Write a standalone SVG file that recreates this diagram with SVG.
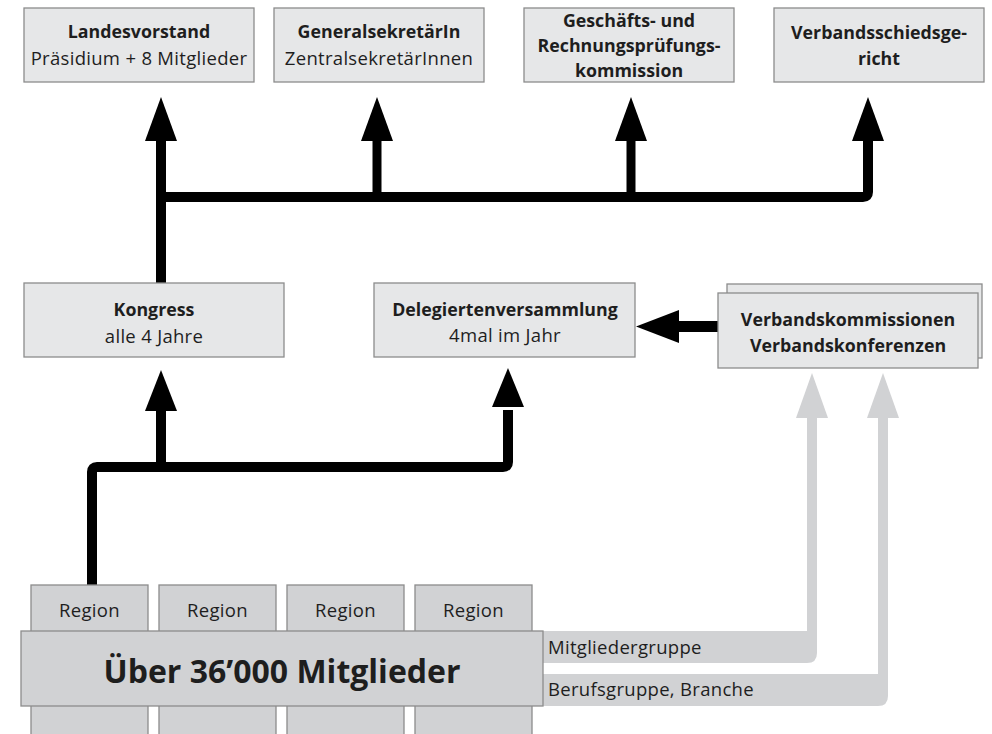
<svg xmlns="http://www.w3.org/2000/svg" width="992" height="734" viewBox="0 0 992 734">
<style>
  .box{fill:#e6e7e8;stroke:#8c8c8c;stroke-width:1.3}
  .dbox{fill:#d1d2d4;stroke:#8c8c8c;stroke-width:1.3}
  text{font-family:"Open Sans","Noto Sans","DejaVu Sans",sans-serif;fill:#1e1e1e;font-size:18.5px;letter-spacing:0.3px}
  .b{font-weight:bold;font-size:17.8px;letter-spacing:0}
  .c{text-anchor:middle}
  .blk{fill:none;stroke:#000;stroke-width:10;stroke-linejoin:round;stroke-linecap:butt}
  .ah{fill:#000}
  .gh{fill:#d1d2d4}
</style>
<rect width="992" height="734" fill="#fff"/>

<g id="connectors">
  <!-- top -->
  <path class="blk" d="M161 283 V141"/>
  <path class="blk" d="M161 197 H863 Q868 197 868 192 V141"/>
  <path class="blk" d="M377 197 V141" style="stroke-width:9"/>
  <path class="blk" d="M631 197 V141" style="stroke-width:9"/>
  <polygon class="ah" points="161,97 177,141 145,141"/>
  <polygon class="ah" points="377,97 393,141 361,141"/>
  <polygon class="ah" points="631,97 647,141 615,141"/>
  <polygon class="ah" points="868,97 884,141 852,141"/>
  <!-- bottom -->
  <path class="blk" d="M92 585 V472 Q92 467 97 467 H503 Q508 467 508 462 V410"/>
  <path class="blk" d="M161 467 V410"/>
  <polygon class="ah" points="161,370 177,411 145,411"/>
  <polygon class="ah" points="508,368 524,407 492,407"/>
  <!-- Verbandskommissionen -> Delegierten -->
  <path d="M722 321 H678 V332 H722 A5.5 5.5 0 0 0 722 321 Z" fill="#000"/>
  <polygon class="ah" points="636,326.5 679,310 679,343"/>
  <!-- gray -->
  <path class="gh" d="M543 631 H807 V417 H817 V653 Q817 663 807 663 H543 Z"/>
  <polygon class="gh" points="812,373 828,418 796,418"/>
  <path class="gh" d="M543 674 H878 V417 H888 V696 Q888 706 878 706 H543 Z"/>
  <polygon class="gh" points="883,373 899,418 867,418"/>
</g>

<g id="landesvorstand">
  <rect class="box" x="24" y="8" width="230" height="74"/>
  <text class="b c" x="139" y="38">Landesvorstand</text>
  <text class="c" x="139" y="65">Präsidium + 8 Mitglieder</text>
</g>
<g id="generalsekretaer">
  <rect class="box" x="274" y="8" width="210" height="74"/>
  <text class="b c" x="379" y="38">GeneralsekretärIn</text>
  <text class="c" x="379" y="65">ZentralsekretärInnen</text>
</g>
<g id="gpk">
  <rect class="box" x="524" y="8" width="210" height="74"/>
  <text class="b c" x="629" y="27">Geschäfts- und</text>
  <text class="b c" x="629" y="52">Rechnungsprüfungs-</text>
  <text class="b c" x="629" y="77">kommission</text>
</g>
<g id="schiedsgericht">
  <rect class="box" x="774" y="8" width="210" height="74"/>
  <text class="b c" x="879" y="39">Verbandsschiedsge-</text>
  <text class="b c" x="879" y="65">richt</text>
</g>

<g id="kongress">
  <rect class="box" x="24" y="283" width="260" height="74"/>
  <text class="b c" x="154" y="316">Kongress</text>
  <text class="c" x="154" y="343">alle 4 Jahre</text>
</g>
<g id="delegierte">
  <rect class="box" x="374" y="283" width="261" height="74"/>
  <text class="b c" x="505" y="316">Delegiertenversammlung</text>
  <text class="c" x="505" y="342">4mal im Jahr</text>
</g>
<g id="verbandskommissionen">
  <rect class="box" x="727" y="284" width="255" height="74"/>
  <rect class="box" x="718" y="293" width="260" height="75"/>
  <text class="b c" x="848" y="326">Verbandskommissionen</text>
  <text class="b c" x="848" y="352">Verbandskonferenzen</text>
</g>

<g id="regionen">
  <rect class="dbox" x="31" y="585" width="117" height="160"/>
  <rect class="dbox" x="159" y="585" width="117" height="160"/>
  <rect class="dbox" x="287" y="585" width="117" height="160"/>
  <rect class="dbox" x="415" y="585" width="117" height="160"/>
  <text class="c" x="89.5" y="617">Region</text>
  <text class="c" x="217.5" y="617">Region</text>
  <text class="c" x="345.5" y="617">Region</text>
  <text class="c" x="473.5" y="617">Region</text>
</g>
<g id="mitglieder">
  <rect class="dbox" x="21" y="631" width="522" height="75"/>
  <text class="b c" x="282" y="683" style="font-size:32px">Über 36’000 Mitglieder</text>
</g>
<g id="labels">
  <text x="548" y="654">Mitgliedergruppe</text>
  <text x="548" y="696">Berufsgruppe, Branche</text>
</g>
</svg>
